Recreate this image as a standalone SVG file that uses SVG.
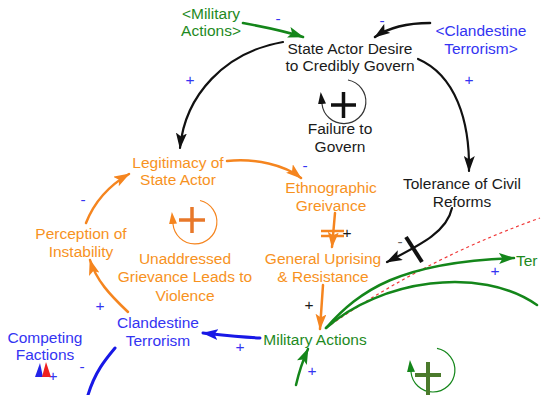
<svg xmlns="http://www.w3.org/2000/svg" width="550" height="395" viewBox="0 0 550 395">
<style>
text{font-family:"Liberation Sans",Arial,sans-serif;font-size:15.5px;text-anchor:middle}
.k{fill:#1a1a1a}.o{fill:#F7921E}.g{fill:#1E8A1E}.b{fill:#3434F2}
.pol{font-size:12px}
.lk{fill:none;stroke-linecap:round}
.ck{stroke:#111}.co{stroke:#F5851F}.cg{stroke:#14861A}.cb{stroke:#1818E6}
</style>
<defs>
<marker id="ak" markerUnits="userSpaceOnUse" viewBox="0 0 16 11" refX="15" refY="5.5" markerWidth="16" markerHeight="11" orient="auto"><path d="M0,0 L16,5.5 L0,11 L3.5,5.5z" fill="#111"/></marker>
<marker id="ao" markerUnits="userSpaceOnUse" viewBox="0 0 16 11" refX="15" refY="5.5" markerWidth="16" markerHeight="11" orient="auto"><path d="M0,0 L16,5.5 L0,11 L3.5,5.5z" fill="#F5851F"/></marker>
<marker id="ag" markerUnits="userSpaceOnUse" viewBox="0 0 16 11" refX="15" refY="5.5" markerWidth="16" markerHeight="11" orient="auto"><path d="M0,0 L16,5.5 L0,11 L3.5,5.5z" fill="#14861A"/></marker>
<marker id="ab" markerUnits="userSpaceOnUse" viewBox="0 0 16 11" refX="15" refY="5.5" markerWidth="16" markerHeight="11" orient="auto"><path d="M0,0 L16,5.5 L0,11 L3.5,5.5z" fill="#1818E6"/></marker>
<marker id="lk" markerUnits="userSpaceOnUse" viewBox="0 0 12 8" refX="0" refY="4" markerWidth="12" markerHeight="8" orient="auto"><path d="M0,0 L12,4 L0,8z" fill="#111"/></marker>
<marker id="lo" markerUnits="userSpaceOnUse" viewBox="0 0 12 8" refX="0" refY="4" markerWidth="12" markerHeight="8" orient="auto"><path d="M0,0 L12,4 L0,8z" fill="#F5851F"/></marker>
<marker id="lg" markerUnits="userSpaceOnUse" viewBox="0 0 12 8" refX="0" refY="4" markerWidth="12" markerHeight="8" orient="auto"><path d="M0,0 L12,4 L0,8z" fill="#14861A"/></marker>
</defs>

<g id="connectors">
<path class="lk ck" stroke-width="2.2" d="M283,42 C225,52 185,95 180,148" marker-end="url(#ak)"/>
<path class="lk ck" stroke-width="2.2" d="M418,59 C455,75 470,120 469,171" marker-end="url(#ak)"/>
<path class="lk ck" stroke-width="2.6" d="M430,23 C405,23 388,28 375,37" marker-end="url(#ak)"/>
<path class="lk cg" stroke-width="2.6" d="M243,23 C265,27 285,31 303,37" marker-end="url(#ag)"/>
<path class="lk ck" stroke-width="2.2" d="M452,208 C447,232 420,245 387,262" marker-end="url(#ak)"/>
<line class="ck" stroke-width="4" x1="406" y1="237" x2="422" y2="262"/>
<path class="lk co" stroke-width="2.5" d="M227,161 C255,158 285,165 301,178" marker-end="url(#ao)"/>
<path class="lk co" stroke-width="2.5" d="M335,213 L332,247" marker-end="url(#ao)"/>
<path class="co" stroke-width="2.5" d="M321,231 L344,231 M321,236 L344,236"/>
<path class="lk co" stroke-width="2.5" d="M323,285 L320,329" marker-end="url(#ao)"/>
<path class="lk co" stroke-width="2.5" d="M128,312 C110,295 96,280 90,260" marker-end="url(#ao)"/>
<path class="lk co" stroke-width="2.5" d="M86,223 C95,200 110,185 129,174" marker-end="url(#ao)"/>
<path class="lk cb" stroke-width="3" d="M260,338 C240,337 222,335 203,333" marker-end="url(#ab)"/>
<path class="lk cb" stroke-width="3" d="M115,348 C105,360 95,372 88,395"/>
<path fill="none" stroke="#F03A3A" stroke-width="1.2" stroke-dasharray="3,3" d="M326,328 C380,290 450,250 540,218"/>
<path class="lk cg" stroke-width="2.5" d="M326,328 C360,290 400,262 514,258" marker-end="url(#ag)"/>
<path class="lk cg" stroke-width="2.5" d="M326,328 C380,280 480,265 537,305"/>
<path class="lk cg" stroke-width="2.5" d="M296,385 C299,372 303,360 308,349" marker-end="url(#ag)"/>
<g class="pol">
<text class="b" x="278" y="24">-</text>
<text class="b" x="382" y="26">-</text>
<text class="b" x="190" y="85">+</text>
<text class="b" x="469" y="85">+</text>
<text class="b" x="305" y="171">-</text>
<text class="k" x="347" y="238">+</text>
<text class="k" x="309" y="310">+</text>
<text fill="#666" x="400" y="247">-</text>
<text class="b" x="495" y="276">+</text>
<text class="b" x="312" y="376">+</text>
<text class="b" x="240" y="352">+</text>
<text class="b" x="100" y="311">+</text>
<text class="b" x="83" y="205">-</text>
<text class="b" x="82" y="372">-</text>
<text class="b" x="53" y="381">+</text>
</g>
</g>

<g id="loop-failure">
<path fill="none" stroke="#333" stroke-width="1.2" d="M348,80 A22,22 0 1 1 322,104" marker-end="url(#lk)"/>
<path stroke="#111" stroke-width="3.5" d="M331,105 L356,105 M343.5,92 L343.5,118"/>
</g>
<g id="loop-grievance">
<path fill="none" stroke="#F5851F" stroke-width="1.2" d="M200,200.5 A22,22 0 1 1 173,224" marker-end="url(#lo)"/>
<path stroke="#E8782A" stroke-width="3.5" d="M179,220 L205,220 M192,207 L192,233"/>
</g>
<g id="loop-military">
<path fill="none" stroke="#14861A" stroke-width="1.2" d="M437,348.4 A22,22 0 1 1 411,372" marker-end="url(#lg)"/>
<path stroke="#4B7A2C" stroke-width="4" d="M415,375 L441,375 M428,362 L428,395"/>
</g>

<g id="military-shadow"><text class="g" x="211" y="18.5">&lt;Military</text><text class="g" x="211" y="35.5">Actions&gt;</text></g>
<g id="state-actor-desire"><text class="k" x="350" y="53.5">State Actor Desire</text><text class="k" x="350" y="70.5">to Credibly Govern</text></g>
<g id="clandestine-shadow"><text class="b" x="481" y="35.5">&lt;Clandestine</text><text class="b" x="481" y="53.5">Terrorism&gt;</text></g>
<g id="failure-label"><text class="k" x="340" y="133.5">Failure to</text><text class="k" x="340" y="151.5">Govern</text></g>
<g id="legitimacy"><text class="o" x="178" y="167.5">Legitimacy of</text><text class="o" x="178" y="184.5">State Actor</text></g>
<g id="perception"><text class="o" x="81" y="238.5">Perception of</text><text class="o" x="81" y="256.5">Instability</text></g>
<g id="grievance-label"><text class="o" x="185" y="263.5">Unaddressed</text><text class="o" x="185" y="282">Grievance Leads to</text><text class="o" x="185" y="300.5">Violence</text></g>
<g id="ethnographic"><text class="o" x="331" y="192.5">Ethnographic</text><text class="o" x="331" y="210.5">Greivance</text></g>
<g id="uprising"><text class="o" x="323" y="263.5">General Uprising</text><text class="o" x="323" y="281.5">&amp; Resistance</text></g>
<g id="military-actions"><text class="g" x="315" y="344.5">Military Actions</text></g>
<g id="tolerance"><text class="k" x="462" y="188.5">Tolerance of Civil</text><text class="k" x="462" y="206.5">Reforms</text></g>
<g id="ter"><text class="g" x="516" y="265.5" style="text-anchor:start">Ter</text></g>
<g id="clandestine"><text class="b" x="158" y="327.5">Clandestine</text><text class="b" x="158" y="345.5">Terrorism</text></g>
<g id="competing"><text class="b" x="45" y="342.5">Competing</text><text class="b" x="45" y="359.5">Factions</text>
<path d="M35,377 L43,377 L40,363z" fill="#2424E8"/><path d="M42,377 L51,377 L46,362z" fill="#F02020"/></g>
</svg>
